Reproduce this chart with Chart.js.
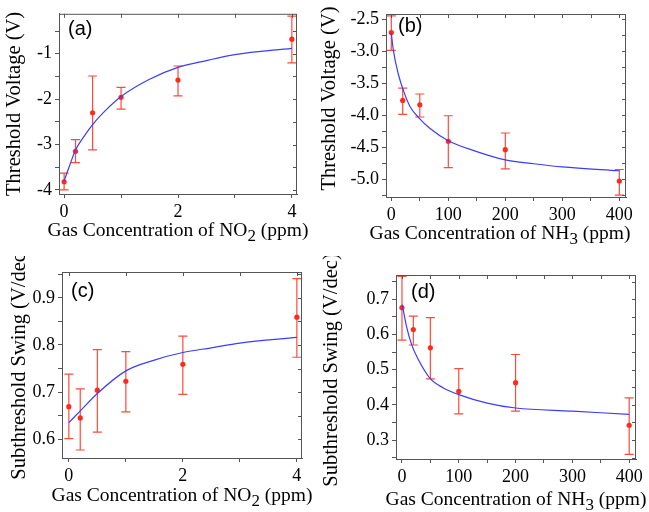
<!DOCTYPE html>
<html>
<head>
<meta charset="utf-8">
<script src="https://cdn.jsdelivr.net/npm/chart.js@4.4.1/dist/chart.umd.min.js"></script>
<style>
  body { margin: 0; background: #fff; }
  #wrap { position: relative; width: 649px; height: 512px; }
  canvas { position: absolute; }
</style>
</head>
<body>
<div id="wrap">
  <canvas id="pa" width="325" height="256" style="left:0;top:0"></canvas>
  <canvas id="pb" width="334" height="256" style="left:315px;top:0"></canvas>
  <canvas id="pc" width="325" height="256" style="left:0;top:256px"></canvas>
  <canvas id="pd" width="334" height="256" style="left:315px;top:256px"></canvas>
</div>
<script>
// panel (a): threshold voltage vs NO2
const aX = [0, 0.2, 0.5, 1, 2, 4];
const aY = [-3.82, -3.15, -2.30, -1.96, -1.58, -0.68];
const aHi = [-3.63, -2.89, -1.49, -1.74, -1.27, -0.17];
const aLo = [-4.00, -3.40, -3.12, -2.22, -1.93, -1.20];
const aFitX = [0, 0.1, 0.2, 0.35, 0.5, 0.75, 1, 1.5, 2, 2.5, 3, 4];
const aFitY = [-3.80, -3.45, -3.12, -2.82, -2.56, -2.22, -1.94, -1.56, -1.30, -1.15, -1.02, -0.88];
const aXTicks = [0, 1, 2, 3, 4];
const aXLabels = {0: '0', 2: '2', 4: '4'};
const aYTicks = [-4, -3.5, -3, -2.5, -2, -1.5, -1, -0.5];
const aYLabels = {'-4': '-4', '-3': '-3', '-2': '-2', '-1': '-1'};

// panel (b): threshold voltage vs NH3
const bX = [0, 20, 50, 100, 200, 400];
const bY = [-2.71, -3.77, -3.84, -4.41, -4.54, -5.03];
const bHi = [-2.45, -3.58, -3.67, -4.01, -4.28, -4.85];
const bLo = [-2.99, -3.99, -4.03, -4.82, -4.84, -5.25];
const bFitX = [0, 3.5, 12, 21, 33, 48, 68, 100, 150, 200, 250, 300, 400];
const bFitY = [-2.72, -2.98, -3.35, -3.61, -3.87, -4.04, -4.21, -4.40, -4.57, -4.70, -4.76, -4.81, -4.87];
const bXTicks = [0, 50, 100, 150, 200, 250, 300, 350, 400];
const bXLabels = {0: '0', 100: '100', 200: '200', 300: '300', 400: '400'};
const bYTicks = [-5.25, -5, -4.75, -4.5, -4.25, -4, -3.75, -3.5, -3.25, -3, -2.75, -2.5];
const bYLabels = {'-5': '-5.0', '-4.5': '-4.5', '-4': '-4.0', '-3.5': '-3.5', '-3': '-3.0', '-2.5': '-2.5'};

// panel (c): subthreshold swing vs NO2
const cX = [0, 0.2, 0.5, 1, 2, 4];
const cY = [0.669, 0.645, 0.704, 0.723, 0.759, 0.859];
const cHi = [0.738, 0.707, 0.790, 0.786, 0.819, 0.941];
const cLo = [0.601, 0.577, 0.615, 0.658, 0.695, 0.774];
const cFitX = [0, 0.2, 0.5, 1, 1.5, 2, 2.5, 3, 4];
const cFitY = [0.635, 0.660, 0.697, 0.745, 0.768, 0.784, 0.794, 0.804, 0.816];
const cXTicks = [0, 1, 2, 3, 4];
const cXLabels = {0: '0', 2: '2', 4: '4'};
const cYTicks = [0.6, 0.65, 0.7, 0.75, 0.8, 0.85, 0.9, 0.95];
const cYLabels = {'0.6': '0.6', '0.7': '0.7', '0.8': '0.8', '0.9': '0.9'};

// panel (d): subthreshold swing vs NH3
const dX = [0, 20, 50, 100, 200, 400];
const dY = [0.676, 0.614, 0.562, 0.438, 0.463, 0.342];
const dHi = [0.765, 0.652, 0.648, 0.503, 0.543, 0.420];
const dLo = [0.584, 0.570, 0.474, 0.374, 0.382, 0.259];
const dFitX = [0.5, 8, 17, 29, 49, 73, 100, 150, 200, 300, 400];
const dFitY = [0.685, 0.623, 0.571, 0.528, 0.476, 0.448, 0.429, 0.405, 0.391, 0.382, 0.373];
const dXTicks = [0, 50, 100, 150, 200, 250, 300, 350, 400];
const dXLabels = {0: '0', 100: '100', 200: '200', 300: '300', 400: '400'};
const dYTicks = [0.25, 0.3, 0.35, 0.4, 0.45, 0.5, 0.55, 0.6, 0.65, 0.7, 0.75];
const dYLabels = {'0.3': '0.3', '0.4': '0.4', '0.5': '0.5', '0.6': '0.6', '0.7': '0.7'};

const RED = '#ff2a1a';
const BAR = '#ff4a3a';
const BLUE = '#3c3cff';
const AXIS = '#555';
const SERIF = '"Liberation Serif", "Times New Roman", serif';
const SANS = '"Liberation Sans", Arial, sans-serif';

const pts = (xs, ys) => xs.map((x, i) => ({x: x, y: ys[i]}));
const key = v => String(Math.round(v * 1000) / 1000);

// error bars + frame + titles, all placed through the chart's own scales
const panelPlugin = {
  id: 'panel',
  beforeDatasetsDraw(chart) {
    const p = chart.options.plugins.panel;
    const xs = chart.scales.x, ys = chart.scales.y, ctx = chart.ctx;
    ctx.save();
    ctx.strokeStyle = BAR;
    ctx.lineWidth = 1.2;
    p.x.forEach((x, i) => {
      const px = xs.getPixelForValue(x);
      const top = ys.getPixelForValue(p.hi[i]);
      const bot = ys.getPixelForValue(p.lo[i]);
      ctx.beginPath();
      ctx.moveTo(px, top); ctx.lineTo(px, bot);
      ctx.moveTo(px - 4.5, top); ctx.lineTo(px + 4.5, top);
      ctx.moveTo(px - 4.5, bot); ctx.lineTo(px + 4.5, bot);
      ctx.stroke();
    });
    ctx.restore();
  },
  afterDraw(chart) {
    const p = chart.options.plugins.panel;
    const a = chart.chartArea, ctx = chart.ctx;
    const xs = chart.scales.x, ys = chart.scales.y;
    ctx.save();
    // frame with mirrored ticks on top and right
    ctx.strokeStyle = AXIS;
    ctx.lineWidth = 1;
    ctx.strokeRect(a.left + 0.5, a.top + 0.5, a.right - a.left - 1, a.bottom - a.top);
    ctx.beginPath();
    xs.ticks.forEach(t => {
      const px = Math.round(xs.getPixelForValue(t.value)) + 0.5;
      ctx.moveTo(px, a.top); ctx.lineTo(px, a.top + 4);
    });
    ys.ticks.forEach(t => {
      const py = Math.round(ys.getPixelForValue(t.value)) + 0.5;
      ctx.moveTo(a.right, py); ctx.lineTo(a.right - 4, py);
    });
    ctx.stroke();

    ctx.fillStyle = '#000';
    // panel letter
    ctx.font = '20px ' + SANS;
    ctx.textAlign = 'left';
    ctx.textBaseline = 'middle';
    ctx.fillText(p.letter, a.left + p.letterAt[0], a.top + p.letterAt[1]);

    // x title with subscript
    const big = '19.5px ' + SERIF, small = '17px ' + SERIF;
    ctx.font = big;
    const w1 = ctx.measureText(p.xPre).width, w3 = ctx.measureText(p.xPost).width;
    ctx.font = small;
    const w2 = ctx.measureText(p.xSub).width;
    let x0 = (a.left + a.right) / 2 + p.xTitle[0] - (w1 + w2 + w3) / 2;
    const y0 = a.bottom + p.xTitle[1];
    ctx.textBaseline = 'alphabetic';
    ctx.font = big;
    ctx.fillText(p.xPre, x0, y0);
    ctx.font = small;
    ctx.fillText(p.xSub, x0 + w1, y0 + 5);
    ctx.font = big;
    ctx.fillText(p.xPost, x0 + w1 + w2, y0);

    // y title
    ctx.font = '20.5px ' + SERIF;
    ctx.translate(a.left - p.yTitle[0], (a.top + a.bottom) / 2 + p.yTitle[1]);
    ctx.rotate(-Math.PI / 2);
    ctx.textAlign = 'center';
    ctx.textBaseline = 'middle';
    ctx.fillText(p.yText, 0, 0);
    ctx.restore();
  }
};

function axis(min, max, ticks, labels, fit) {
  return {
    type: 'linear',
    min: min,
    max: max,
    afterBuildTicks: s => { s.ticks = ticks.map(v => ({value: v})); },
    afterFit: fit,
    ticks: {
      autoSkip: false,
      maxRotation: 0,
      padding: 3,
      color: '#000',
      font: {family: SERIF, size: 18},
      callback: v => labels[key(v)] || ''
    },
    grid: {drawOnChartArea: false, tickLength: 4, color: AXIS},
    border: {color: AXIS}
  };
}

function makePanel(id, d) {
  new Chart(document.getElementById(id), {
    type: 'scatter',
    data: {
      datasets: [
        {type: 'line', data: pts(d.fitX, d.fitY), borderColor: BLUE, borderWidth: 1.2,
         pointRadius: 0, cubicInterpolationMode: 'monotone', fill: false},
        {data: pts(d.x, d.y), backgroundColor: RED, borderColor: RED, pointRadius: 2.6, borderWidth: 0}
      ]
    },
    options: {
      responsive: false,
      animation: false,
      layout: {padding: {top: d.area.top, right: d.area.right, left: 0, bottom: 0}},
      plugins: {
        legend: {display: false},
        tooltip: {enabled: false},
        panel: d
      },
      scales: {
        x: axis(d.xr[0], d.xr[1], d.xTicks, d.xLabels, s => { s.height = d.area.bottom; }),
        y: axis(d.yr[0], d.yr[1], d.yTicks, d.yLabels, s => { s.width = d.area.left; })
      }
    },
    plugins: [panelPlugin]
  });
}

makePanel('pa', {
  x: aX, y: aY, hi: aHi, lo: aLo, fitX: aFitX, fitY: aFitY,
  xr: [-0.09, 4.09], yr: [-4.09, -0.12],
  xTicks: aXTicks, xLabels: aXLabels, yTicks: aYTicks, yLabels: aYLabels,
  area: {left: 59, top: 10, right: 28, bottom: 62},
  letter: '(a)', letterAt: [9, 16],
  xPre: 'Gas Concentration of NO', xSub: '2', xPost: ' (ppm)', xTitle: [0, 42],
  yText: 'Threshold Voltage (V)', yTitle: [44, 0]
});
makePanel('pb', {
  x: bX, y: bY, hi: bHi, lo: bLo, fitX: bFitX, fitY: bFitY,
  xr: [-9.3, 411.7], yr: [-5.28, -2.42],
  xTicks: bXTicks, xLabels: bXLabels, yTicks: bYTicks, yLabels: bYLabels,
  area: {left: 71, top: 14, right: 23, bottom: 59},
  letter: '(b)', letterAt: [12, 12],
  xPre: 'Gas Concentration of NH', xSub: '3', xPost: ' (ppm)', xTitle: [-6, 42],
  yText: 'Threshold Voltage (V)', yTitle: [56, -7]
});
makePanel('pc', {
  x: cX, y: cY, hi: cHi, lo: cLo, fitX: cFitX, fitY: cFitY,
  xr: [-0.12, 4.09], yr: [0.56, 0.955],
  xTicks: cXTicks, xLabels: cXLabels, yTicks: cYTicks, yLabels: cYLabels,
  area: {left: 62, top: 16, right: 23, bottom: 54},
  letter: '(c)', letterAt: [9, 19],
  xPre: 'Gas Concentration of NO', xSub: '2', xPost: ' (ppm)', xTitle: [0, 43],
  yText: 'Subthreshold Swing (V/dec)', yTitle: [42, -2]
});
makePanel('pd', {
  x: dX, y: dY, hi: dHi, lo: dLo, fitX: dFitX, fitY: dFitY,
  xr: [-10.5, 412], yr: [0.246, 0.769],
  xTicks: dXTicks, xLabels: dXLabels, yTicks: dYTicks, yLabels: dYLabels,
  area: {left: 81, top: 19, right: 13, bottom: 53},
  letter: '(d)', letterAt: [15, 17],
  xPre: 'Gas Concentration of NH', xSub: '3', xPost: ' (ppm)', xTitle: [0, 46],
  yText: 'Subthreshold Swing (V/dec)', yTitle: [64, 3]
});
</script>
</body>
</html>
